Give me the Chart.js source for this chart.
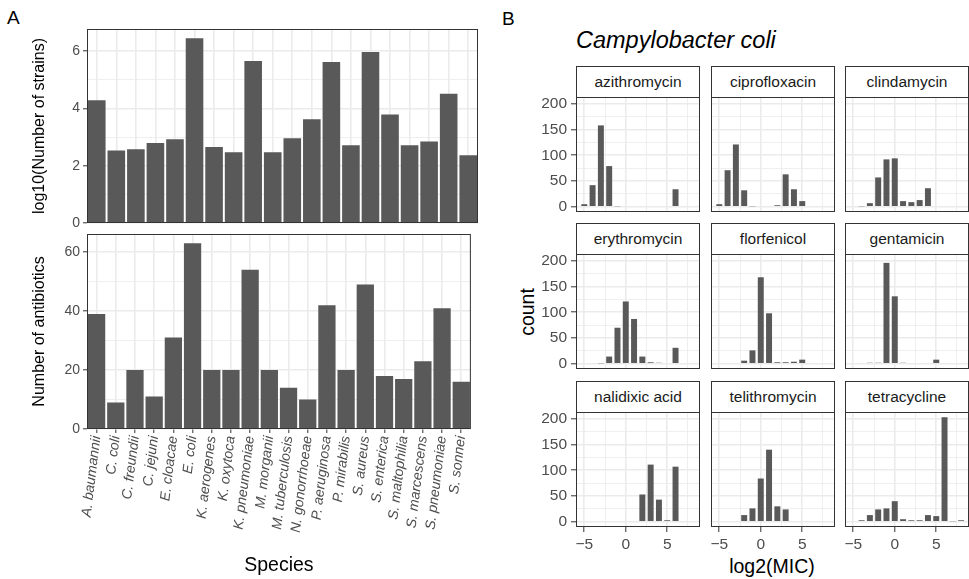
<!DOCTYPE html>
<html>
<head>
<meta charset="utf-8">
<script src="https://cdn.jsdelivr.net/npm/chart.js@4.4.1/dist/chart.umd.min.js"></script>
<style>
  body { margin: 0; background: #fff; }
  #wrap { position: relative; width: 969px; height: 579px; overflow: hidden; background: #fff;
          font-family: "Liberation Sans", Arial, Helvetica, sans-serif; }
  #wrap canvas, .lbl, .strip { position: absolute; }
  .lbl { line-height: 1; color: #000; white-space: nowrap; }
  .strip { box-sizing: border-box; border: 1px solid #333; background: #fff; color: #1a1a1a;
           font-size: 15.5px; text-align: center; line-height: 30px; height: 32px; width: 124px; }
</style>
</head>
<body>
<div id="wrap">
  <div class="lbl" style="left:7px; top:8px; font-size:19px">A</div>
  <div class="lbl" style="left:502px; top:9px; font-size:19px">B</div>
  <div class="lbl" style="left:576px; top:29px; font-size:23.5px; font-style:italic">Campylobacter coli</div>
  <div class="lbl" style="left:477px; top:300px; width:100px; line-height:24px; font-size:19.5px; text-align:center; transform:rotate(-90deg)">count</div>
  <div class="lbl" style="left:672px; top:554px; width:200px; line-height:24px; font-size:19.5px; text-align:center">log2(MIC)</div>
</div>
<script>
// panel A: species overview
const species = ['A. baumannii', 'C. coli', 'C. freundii', 'C. jejuni', 'E. cloacae', 'E. coli',
  'K. aerogenes', 'K. oxytoca', 'K. pneumoniae', 'M. morganii', 'M. tuberculosis', 'N. gonorrhoeae',
  'P. aeruginosa', 'P. mirabilis', 'S. aureus', 'S. enterica', 'S. maltophilia', 'S. marcescens',
  'S. pneumoniae', 'S. sonnei'];
const log10Strains = [4.28, 2.53, 2.57, 2.79, 2.92, 6.45, 2.65, 2.47, 5.65, 2.47,
  2.96, 3.62, 5.62, 2.71, 5.97, 3.79, 2.71, 2.84, 4.51, 2.36];
const nAntibiotics = [39, 9, 20, 11, 31, 63, 20, 20, 54, 20, 14, 10, 42, 20, 49, 18, 17, 23, 41, 16];

// panel B: MIC histograms for Campylobacter coli
const drugs = ['azithromycin', 'ciprofloxacin', 'clindamycin', 'erythromycin', 'florfenicol',
  'gentamicin', 'nalidixic acid', 'telithromycin', 'tetracycline'];
const log2Mic = [-5, -4, -3, -2, -1, 0, 1, 2, 3, 4, 5, 6, 7, 8];
const azithromycin  = [5, 42, 158, 79, 1, null, null, null, null, null, null, 34, null, null];
const ciprofloxacin = [5, 71, 121, 32, 1, null, null, 3, 63, 34, 11, null, null, null];
const clindamycin   = [null, 1, 7, 57, 92, 94, 11, 9, 13, 36, null, null, null, null];
const erythromycin  = [null, null, 1, 14, 70, 121, 87, 14, 3, 2, null, 31, null, null];
const florfenicol   = [null, null, null, 6, 26, 168, 98, 3, 3, 4, 8, null, null, null];
const gentamicin    = [null, null, 2, 2, 196, 131, 2, null, null, null, 8, null, null, null];
const nalidixicAcid = [null, null, null, null, null, null, null, 53, 111, 43, 3, 107, null, null];
const telithromycin = [null, null, null, 13, 26, 84, 140, 30, 24, null, null, null, null, null];
const tetracycline  = [null, 3, 13, 24, 26, 40, 5, 3, 3, 13, 11, 203, 1, 3];
const counts = [azithromycin, ciprofloxacin, clindamycin, erythromycin, florfenicol,
  gentamicin, nalidixicAcid, telithromycin, tetracycline];

const GRID = '#EBEBEB', DARK = '#333333', BAR = '#595959', TICK = '#4D4D4D';
Chart.defaults.font.family = '"Liberation Sans", Arial, Helvetica, sans-serif';

// ggplot-like box around the plotting area
const panelBox = {
  id: 'panelBox',
  afterDraw(chart) {
    const a = chart.chartArea, ctx = chart.ctx;
    ctx.save();
    ctx.strokeStyle = DARK;
    ctx.lineWidth = 1;
    ctx.strokeRect(a.left + 0.5, a.top + 0.5, a.right - a.left - 1, a.bottom - a.top - 1);
    ctx.restore();
  }
};

function addCanvas(left, top, w, h) {
  const c = document.createElement('canvas');
  c.width = w; c.height = h;
  c.style.left = left + 'px'; c.style.top = top + 'px';
  c.style.width = w + 'px'; c.style.height = h + 'px';
  document.getElementById('wrap').appendChild(c);
  return c.getContext('2d');
}

const minus = v => v < 0 ? '\u2212' + Math.abs(v) : String(v);
const isMajor = (c, m) => c.tick && Math.abs(c.tick.value % m) < 1e-9;

function speciesChart(ctx, values, yMax, step, major, yTitle, showX, pad) {
  return new Chart(ctx, {
    type: 'bar',
    data: {
      labels: species,
      datasets: [{ data: values, backgroundColor: BAR, categoryPercentage: 0.9, barPercentage: 1 }]
    },
    plugins: [panelBox],
    options: {
      responsive: false,
      animation: false,
      layout: { padding: pad },
      plugins: { legend: { display: false }, tooltip: { enabled: false } },
      scales: {
        x: {
          offset: true,
          grid: { color: GRID, lineWidth: 1.6, offset: false, drawTicks: showX, tickLength: 4, tickColor: DARK, tickWidth: 1 },
          border: { display: false },
          ticks: { display: showX, autoSkip: false, minRotation: 83, maxRotation: 83, padding: 2,
                   color: TICK, font: { size: 14, style: 'italic' } },
          title: { display: showX, text: 'Species', color: '#000', font: { size: 19.5 }, padding: { top: 0, bottom: 2 } },
          afterFit: s => { s.height = showX ? 150 : 0; }
        },
        y: {
          min: 0, max: yMax,
          grid: { color: GRID, lineWidth: c => isMajor(c, major) ? 1.6 : 0.8, tickLength: 4,
                  tickColor: c => isMajor(c, major) ? DARK : 'rgba(0,0,0,0)', tickWidth: 1 },
          border: { display: false },
          ticks: { stepSize: step, includeBounds: false, autoSkip: false, padding: 3, color: TICK,
                   font: { size: 14 }, callback: v => v % major === 0 ? v : '' },
          title: { display: true, text: yTitle, color: '#000', font: { size: 16 }, padding: { top: 30, bottom: 0 } },
          afterFit: s => { s.width = 87; }
        }
      }
    }
  });
}

speciesChart(addCanvas(0, 0, 480, 240), log10Strains, 6.77, 1, 2, 'log10(Number of strains)', false,
  { top: 29, left: 0, right: 2, bottom: 17 });
speciesChart(addCanvas(0, 214, 480, 365), nAntibiotics, 66.15, 10, 20, 'Number of antibiotics', true,
  { top: 20, left: 0, right: 2, bottom: 0 });

// facet grid
const colLeft = [576, 711, 845], stripTop = [66, 223, 381];
const panelW = 124, panelH = 115, stripH = 31, M = 20, yAxisW = 40, xAxisH = 30;

drugs.forEach((drug, k) => {
  const c = k % 3, r = Math.floor(k / 3);
  const L = colLeft[c], T = stripTop[r] + stripH;
  const yW = c === 0 ? yAxisW : 0, xH = r === 2 ? xAxisH : 0;
  const ctx = addCanvas(L - M - yW, T - M, panelW + 2 * M + yW, panelH + 2 * M + xH);
  const pts = log2Mic.map((x, i) => ({ x: x, y: counts[k][i] })).filter(p => p.y !== null);

  new Chart(ctx, {
    type: 'bar',
    data: { datasets: [{ data: pts, backgroundColor: BAR, categoryPercentage: 1, barPercentage: 0.72 }] },
    plugins: [panelBox],
    options: {
      responsive: false,
      animation: false,
      layout: { padding: M },
      plugins: { legend: { display: false }, tooltip: { enabled: false } },
      scales: {
        x: {
          type: 'linear', min: -6, max: 8.95, offset: false,
          grid: { color: GRID, offset: false, lineWidth: g => isMajor(g, 5) ? 1.6 : 0.8,
                  drawTicks: r === 2, tickLength: 5, tickWidth: 1,
                  tickColor: g => isMajor(g, 5) ? DARK : 'rgba(0,0,0,0)' },
          border: { display: false },
          ticks: { display: r === 2, stepSize: 2.5, includeBounds: false, autoSkip: false, maxRotation: 0,
                   padding: 3, color: TICK, font: { size: 15.5 },
                   callback: v => Math.abs(v % 5) < 1e-9 ? minus(v) : '' },
          afterFit: s => { s.height = xH; }
        },
        y: {
          min: -10.15, max: 213.15,
          grid: { color: GRID, lineWidth: g => isMajor(g, 50) ? 1.6 : 0.8,
                  drawTicks: c === 0, tickLength: 5, tickWidth: 1,
                  tickColor: g => isMajor(g, 50) ? DARK : 'rgba(0,0,0,0)' },
          border: { display: false },
          ticks: { display: c === 0, stepSize: 25, includeBounds: false, autoSkip: false,
                   padding: 4, color: TICK, font: { size: 15.5 },
                   callback: v => v % 50 === 0 ? v : '' },
          afterFit: s => { s.width = yW; }
        }
      }
    }
  });

  const strip = document.createElement('div');
  strip.className = 'strip';
  strip.style.left = L + 'px';
  strip.style.top = stripTop[r] + 'px';
  strip.textContent = drug;
  document.getElementById('wrap').appendChild(strip);
});
</script>
</body>
</html>
